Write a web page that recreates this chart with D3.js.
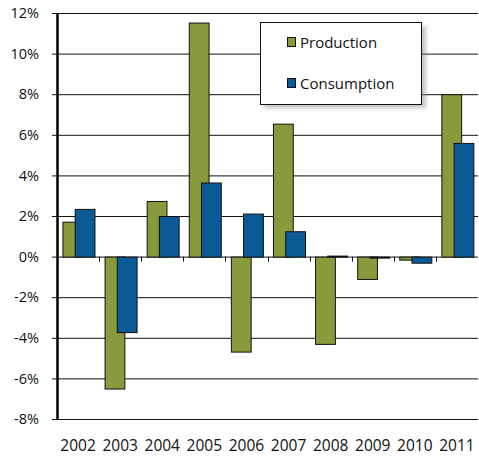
<!DOCTYPE html>
<html>
<head>
<meta charset="utf-8">
<script src="https://cdn.jsdelivr.net/npm/d3@7"></script>
<style>
  body { margin: 0; background: #fff; }
  text { font-family: "Open Sans", "DejaVu Sans", sans-serif; fill: #111; }
</style>
</head>
<body>
<svg width="479" height="457"></svg>
<script>
var years = ["2002", "2003", "2004", "2005", "2006", "2007", "2008", "2009", "2010", "2011"];
var production = [1.72, -6.5, 2.74, 11.53, -4.68, 6.55, -4.3, -1.1, -0.15, 8.0];
var consumption = [2.35, -3.72, 2.0, 3.65, 2.12, 1.25, 0.05, -0.05, -0.3, 5.6];
var yTicks = [-8, -6, -4, -2, 0, 2, 4, 6, 8, 10, 12];
var seriesNames = ["Production", "Consumption"];
var colors = ["#879a3c", "#0b5a96"];

var svg = d3.select("svg"),
	margin = {top: 13, right: 1, bottom: 38, left: 57},
	width = +svg.attr("width") - margin.left - margin.right,
	height = +svg.attr("height") - margin.top - margin.bottom;

var x = d3.scaleBand()
	.domain(years)
	.range([0, width]);

var y = d3.scaleLinear()
	.domain([-8, 12])
	.range([height, 0]);

var g = svg.append("g")
	.attr("transform", "translate(" + margin.left + "," + margin.top + ")");

// grid lines
g.selectAll(".grid")
	.data(yTicks)
	.enter()
	.append("line")
	.attr("x1", 0)
	.attr("x2", width)
	.attr("y1", function(d) { return y(d) + 0.5; })
	.attr("y2", function(d) { return y(d) + 0.5; })
	.style("stroke", "#111")
	.style("stroke-width", 1);

var bw = x.bandwidth();

function drawBars(values, offset, color) {
	g.selectAll(null)
		.data(values)
		.enter()
		.append("rect")
		.attr("x", function(d, i) { return x(years[i]) + offset * bw + 0.5; })
		.attr("y", function(d) { return y(Math.max(0, d)) + 0.5; })
		.attr("width", 0.47 * bw)
		.attr("height", function(d) { return Math.abs(y(d) - y(0)); })
		.style("fill", color)
		.style("stroke", "#111")
		.style("stroke-width", 1);
}
drawBars(production, 0.13, colors[0]);
drawBars(consumption, 0.42, colors[1]);

// x ticks at zero line
g.selectAll(".xtick")
	.data(years.slice(1))
	.enter()
	.append("line")
	.attr("x1", function(d) { return Math.round(x(d)) + 0.5; })
	.attr("x2", function(d) { return Math.round(x(d)) + 0.5; })
	.attr("y1", y(0))
	.attr("y2", y(0) + 5)
	.style("stroke", "#111");

// y axis
var yAxis = d3.axisLeft(y)
	.tickValues(yTicks)
	.tickSize(5)
	.tickPadding(13)
	.tickFormat(function(d) { return d + "%"; });

var ya = g.append("g").call(yAxis);
ya.select(".domain").remove();
ya.selectAll("line").style("stroke", "#111");
ya.selectAll("text").style("font-size", "14.5px");

g.append("line")
	.attr("x1", 0.5)
	.attr("x2", 0.5)
	.attr("y1", 0)
	.attr("y2", height + 1)
	.style("stroke", "#000")
	.style("stroke-width", 2.5);

// x labels
g.selectAll(".xlabel")
	.data(years)
	.enter()
	.append("text")
	.attr("x", function(d) { return x(d) + bw / 2; })
	.attr("y", height + 32)
	.attr("text-anchor", "middle")
	.style("font-size", "15.5px")
	.text(function(d) { return d; });

// legend
var legend = svg.append("g")
	.attr("transform", "translate(260,22)");

legend.append("rect")
	.attr("x", 4)
	.attr("y", 4)
	.attr("width", 162)
	.attr("height", 82)
	.style("fill", "#888")
	.style("opacity", 0.5)
	.style("filter", "blur(2px)");

legend.append("rect")
	.attr("x", 0.5)
	.attr("y", 0.5)
	.attr("width", 161)
	.attr("height", 82)
	.style("fill", "#fff")
	.style("stroke", "#111");

var items = legend.selectAll(".item")
	.data(seriesNames)
	.enter()
	.append("g")
	.attr("transform", function(d, i) { return "translate(27," + (15 + i * 41) + ")"; });

items.append("rect")
	.attr("x", 0.5)
	.attr("y", 0.5)
	.attr("width", 8)
	.attr("height", 9)
	.style("fill", function(d, i) { return colors[i]; })
	.style("stroke", "#111");

items.append("text")
	.attr("x", 13)
	.attr("y", 10.5)
	.style("font-size", "15px")
	.text(function(d) { return d; });
</script>
</body>
</html>
